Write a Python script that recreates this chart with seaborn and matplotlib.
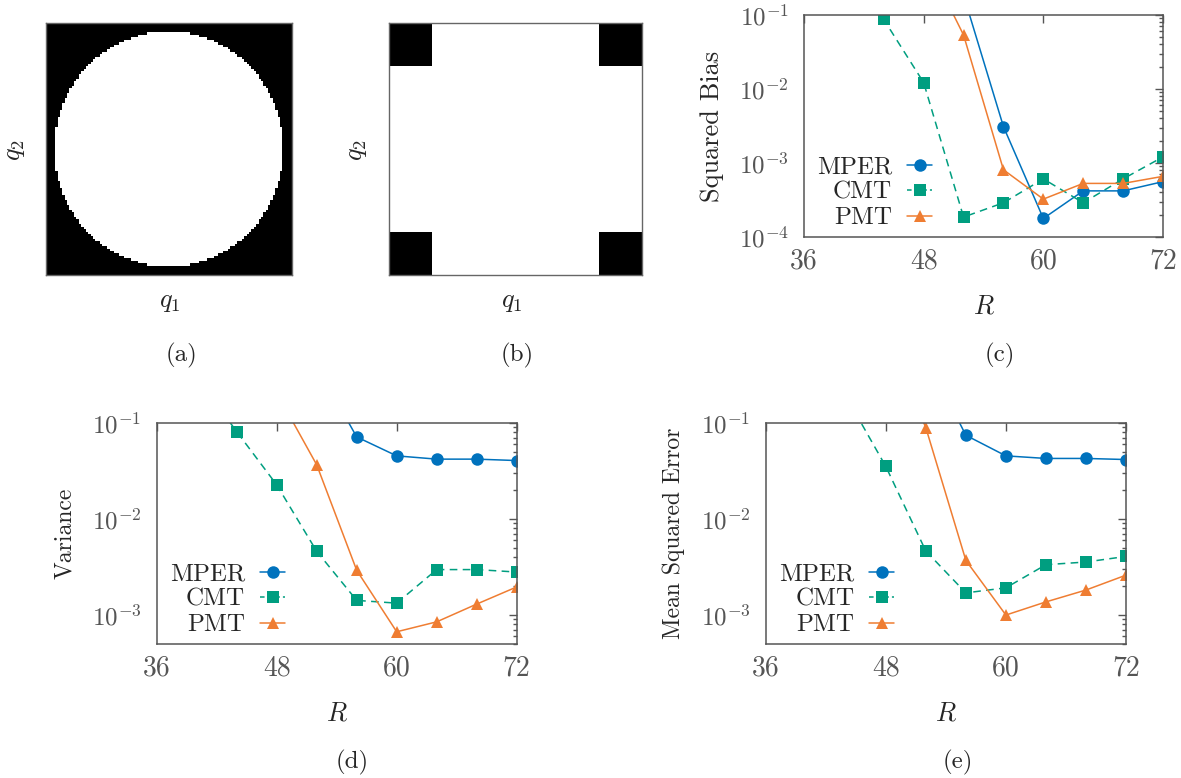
import numpy as np
import pandas as pd
import matplotlib
matplotlib.use('Agg')
import matplotlib.pyplot as plt
from matplotlib.lines import Line2D
from matplotlib.ticker import LogLocator, NullFormatter
import seaborn as sns

# R values and the three estimators
R = [36, 40, 44, 48, 52, 56, 60, 64, 68, 72]
methods = ['MPER', 'CMT', 'PMT']

# squared bias (c)
bias_mper = [3.0, 1.6, 0.8, 0.45, 0.185, 3.1e-3, 1.78e-4, 4.2e-4, 4.2e-4, 5.6e-4]
bias_cmt = [0.9, 0.35, 0.087, 0.0122, 1.86e-4, 2.9e-4, 6.1e-4, 2.9e-4, 6.1e-4, 1.21e-3]
bias_pmt = [2.0, 1.3, 0.9, 0.65, 0.0537, 8.1e-4, 3.25e-4, 5.3e-4, 5.3e-4, 6.6e-4]

# variance (d)
var_mper = [3.0, 2.0, 1.2, 0.8, 0.39, 0.0711, 0.0452, 0.0418, 0.0418, 0.0404]
var_cmt = [0.9, 0.3, 0.0807, 0.0226, 4.6e-3, 1.42e-3, 1.33e-3, 2.97e-3, 2.97e-3, 2.8e-3]
var_pmt = [1.5, 0.9, 0.5, 0.205, 0.0365, 2.92e-3, 6.7e-4, 8.5e-4, 1.3e-3, 1.96e-3]

# mean squared error (e)
mse_mper = [6.0, 3.6, 2.0, 1.25, 0.49, 0.074, 0.0452, 0.0425, 0.0425, 0.0414]
mse_cmt = [1.8, 0.65, 0.19, 0.0351, 4.63e-3, 1.70e-3, 1.92e-3, 3.34e-3, 3.56e-3, 4.07e-3]
mse_pmt = [3.5, 2.2, 1.4, 0.85, 0.0887, 3.7e-3, 1.0e-3, 1.37e-3, 1.82e-3, 2.6e-3]

x_ticks = [36, 48, 60, 72]

# shapes of the two domains (a), (b)
grid_n = 104
circle_radius = 0.465
corner_cells = 17
box_cells = 100

palette = {'MPER': '#0072bd', 'CMT': '#009e80', 'PMT': '#ef7d32'}
markers = {'MPER': 'o', 'CMT': 's', 'PMT': '^'}
dashes = {'MPER': '', 'CMT': (5, 3.5), 'PMT': ''}

sns.set_style('white')
plt.rcParams['font.family'] = 'serif'
plt.rcParams['font.serif'] = ['cmr10']
plt.rcParams['mathtext.fontset'] = 'cm'
plt.rcParams['axes.formatter.use_mathtext'] = True

W, H = 1181, 778
fig = plt.figure(figsize=(W / 100, H / 100), dpi=100)


def box(left, top, right, bottom):
    return [left / W, 1 - bottom / H, (right - left) / W, (bottom - top) / H]


grey = '#555555'

# ---- (a) circle
ax_a = fig.add_axes(box(45.7, 22.7, 291.7, 275.3))
g = (np.arange(grid_n) + 0.5) / grid_n - 0.5
gx, gy = np.meshgrid(g, g)
circle = (gx ** 2 + gy ** 2 <= circle_radius ** 2).astype(float)
sns.heatmap(circle, ax=ax_a, cmap='gray', vmin=0, vmax=1, cbar=False,
            xticklabels=False, yticklabels=False)

# ---- (b) square with black corners
ax_b = fig.add_axes(box(389.3, 22.7, 642.3, 275.3))
corners = np.ones((box_cells, box_cells))
c = corner_cells
corners[:c, :c] = 0
corners[:c, -c:] = 0
corners[-c:, :c] = 0
corners[-c:, -c:] = 0
sns.heatmap(corners, ax=ax_b, cmap='gray', vmin=0, vmax=1, cbar=False,
            xticklabels=False, yticklabels=False)

for ax in (ax_a, ax_b):
    for sp in ax.spines.values():
        sp.set_visible(True)
        sp.set_color('#666666')
        sp.set_linewidth(1.0)

fig.text(170 / W, 1 - 302 / H, '$q_1$', fontsize=19, ha='center', va='center')
fig.text(15 / W, 1 - 150 / H, '$q_2$', fontsize=19, ha='center', va='center', rotation=90)
fig.text(512 / W, 1 - 302 / H, '$q_1$', fontsize=19, ha='center', va='center')
fig.text(357 / W, 1 - 150 / H, '$q_2$', fontsize=19, ha='center', va='center', rotation=90)
fig.text(181 / W, 1 - 355 / H, '(a)', fontsize=18, ha='center', va='center')
fig.text(517 / W, 1 - 355 / H, '(b)', fontsize=18, ha='center', va='center')


def long_table(mper, cmt, pmt):
    return pd.DataFrame({
        'R': R * 3,
        'value': list(mper) + list(cmt) + list(pmt),
        'method': ['MPER'] * len(R) + ['CMT'] * len(R) + ['PMT'] * len(R),
    })


def curve_panel(rect, df, ylabel, ylim, caption, caption_x, ylabel_size=17):
    ax = fig.add_axes(rect)
    sns.lineplot(data=df, x='R', y='value', hue='method', style='method',
                 hue_order=methods, style_order=methods, palette=palette,
                 markers=markers, dashes=dashes, markersize=9,
                 markeredgewidth=0, linewidth=1.1, legend=False, ax=ax)
    ax.set_yscale('log')
    ax.set_xlim(36, 72)
    ax.set_ylim(*ylim)
    ax.set_xticks(x_ticks)
    ax.set_xticklabels([str(t) for t in x_ticks])
    ax.yaxis.set_major_locator(LogLocator(base=10))
    ax.yaxis.set_minor_locator(LogLocator(base=10, subs=np.arange(2, 10)))
    ax.yaxis.set_minor_formatter(NullFormatter())
    ax.tick_params(which='both', direction='in', top=True, right=True,
                   color=grey, labelcolor=grey, width=1.0)
    ax.tick_params(which='major', length=6)
    ax.tick_params(which='minor', length=3)
    ax.tick_params(axis='x', which='minor', length=0)
    ax.tick_params(axis='x', labelsize=20, pad=8)
    ax.tick_params(axis='y', labelsize=18, pad=11)
    for sp in ax.spines.values():
        sp.set_color(grey)
        sp.set_linewidth(1.1)
    ax.set_xlabel('$R$', fontsize=19)
    ax.xaxis.set_label_coords(0.5, -0.262)
    ax.set_ylabel(ylabel, fontsize=ylabel_size)
    ax.yaxis.set_label_coords(-0.224, 0.5)

    handles = [Line2D([], [], color=palette[m], marker=markers[m],
                      linestyle='--' if m == 'CMT' else '-',
                      dashes=(3, 2) if m == 'CMT' else (None, None),
                      lw=1.1, markersize=9, mew=0) for m in methods]
    ax.legend(handles, methods, loc='center right', bbox_to_anchor=(0.357, 0.2),
              frameon=False, markerfirst=False, handlelength=1.0,
              handletextpad=0.6, labelspacing=0.12, borderpad=0,
              borderaxespad=0, fontsize=18)
    pos = ax.get_position()
    fig.text(caption_x / W, pos.y0 - 118 / H, caption, fontsize=18,
             ha='center', va='center')
    return ax


curve_panel(box(804, 15, 1163, 237), long_table(bias_mper, bias_cmt, bias_pmt),
            'Squared Bias', (1e-4, 1e-1), '(c)', 1000, ylabel_size=19)
curve_panel(box(156.7, 422.7, 516.7, 644), long_table(var_mper, var_cmt, var_pmt),
            'Variance', (5e-4, 1e-1), '(d)', 352)
curve_panel(box(765.7, 422.7, 1126, 644), long_table(mse_mper, mse_cmt, mse_pmt),
            'Mean Squared Error', (5e-4, 1e-1), '(e)', 958)

fig.savefig('out.png', dpi=100)
